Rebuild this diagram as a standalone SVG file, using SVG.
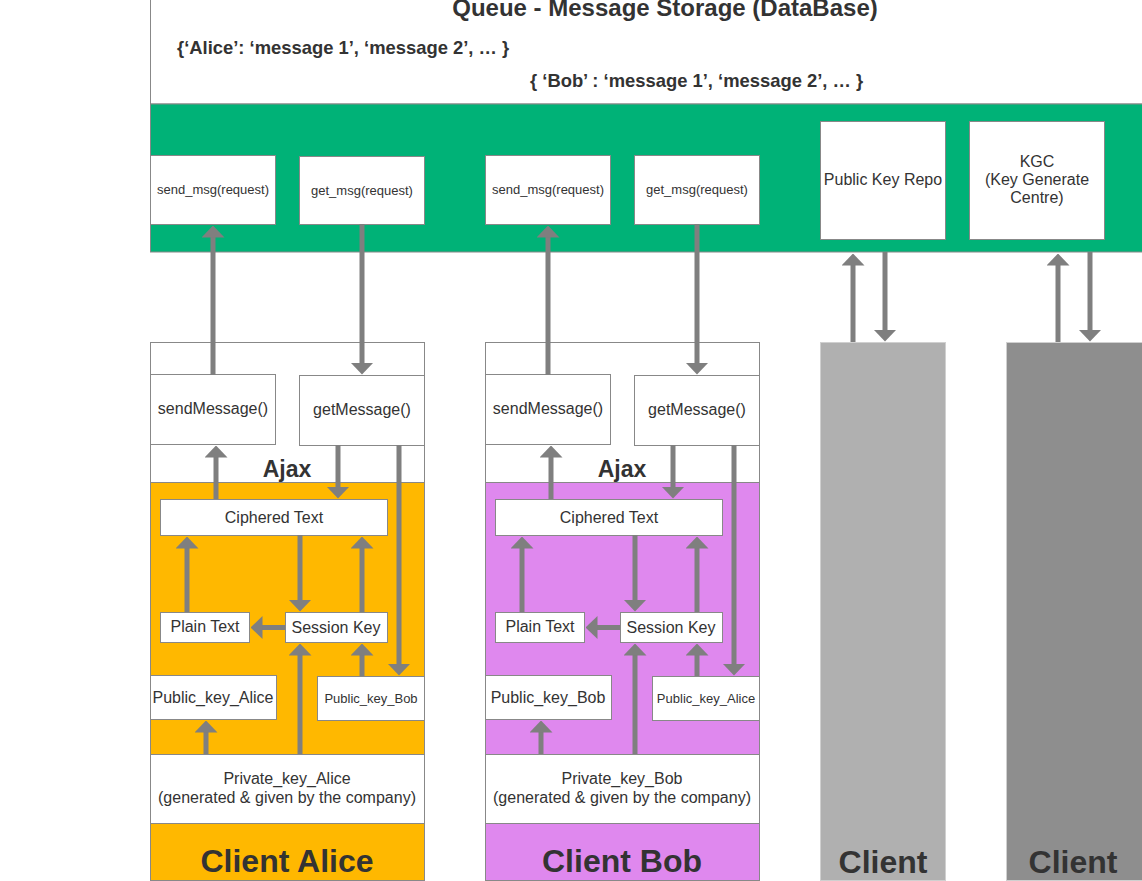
<svg xmlns="http://www.w3.org/2000/svg" width="1142" height="881" viewBox="0 0 1142 881">
<style>
  text { font-family: "Liberation Sans", Arial, sans-serif; fill: #333333; }
  .box { fill: #ffffff; stroke: #888888; stroke-width: 1; }
  .c { text-anchor: middle; }
  .t15 { font-size: 16px; }
  .t12 { font-size: 13px; }
  .big { font-size: 32px; font-weight: bold; }
  .ajax { font-size: 23px; font-weight: bold; }
  .arr { stroke: #7f7f7f; stroke-width: 5; fill: none; marker-end: url(#ah); }
</style>
<defs>
  <marker id="ah" markerUnits="userSpaceOnUse" markerWidth="12" markerHeight="23" viewBox="0 -11.5 12 23" refX="0.5" refY="0" orient="auto">
    <path d="M0,-11.5 L12,0 L0,11.5 Z" fill="#7f7f7f"/>
  </marker>
</defs>
<rect width="1142" height="881" fill="#ffffff"/>

<g id="db">
  <rect x="150.5" y="-1" width="992" height="105" class="box"/>
  <text x="665" y="16" class="c" style="font-size:24px;font-weight:bold">Queue - Message Storage (DataBase)</text>
  <text x="177" y="54" style="font-size:18.4px;font-weight:bold">{‘Alice’: ‘message 1’, ‘message 2’, … }</text>
  <text x="530" y="87" style="font-size:18.4px;font-weight:bold">{ ‘Bob’ : ‘message 1’, ‘message 2’, … }</text>
</g>

<g id="server">
  <rect x="150.5" y="104" width="992" height="148" fill="#00b277" stroke="#888888" stroke-width="1"/>
</g>
<g id="send_alice"><rect x="150.5" y="155.5" width="125" height="69" class="box"/><text x="213" y="194" class="c t12">send_msg(request)</text></g>
<g id="get_alice"><rect x="299.5" y="156.5" width="125" height="68" class="box"/><text x="362" y="195" class="c t12">get_msg(request)</text></g>
<g id="send_bob"><rect x="485.5" y="155.5" width="125" height="69" class="box"/><text x="548" y="194" class="c t12">send_msg(request)</text></g>
<g id="get_bob"><rect x="634.5" y="155.5" width="125" height="69" class="box"/><text x="697" y="194" class="c t12">get_msg(request)</text></g>
<g id="pkrepo"><rect x="820.5" y="121.5" width="125" height="118" class="box"/><text x="883" y="185" class="c t15">Public Key Repo</text></g>
<g id="kgc"><rect x="969.5" y="121.5" width="135" height="118" class="box"/>
  <text x="1037" y="167" class="c t15">KGC</text>
  <text x="1037" y="185" class="c t15">(Key Generate</text>
  <text x="1037" y="203" class="c t15">Centre)</text>
</g>

<!-- Client Alice -->
<g id="client_alice">
  <rect x="150.5" y="342.5" width="274" height="538" fill="#ffb800" stroke="#888888" stroke-width="1"/>
  <rect x="150.5" y="342.5" width="274" height="140" fill="#ffffff" stroke="#888888" stroke-width="1"/>
  <text x="287" y="477" class="c ajax">Ajax</text>
  <text x="287" y="872" class="c big">Client Alice</text>
</g>
<g id="sendMessage_alice"><rect x="150.5" y="374.5" width="125" height="70" class="box"/><text x="213" y="414" class="c t15">sendMessage()</text></g>
<g id="getMessage_alice"><rect x="299.5" y="375.5" width="125" height="70" class="box"/><text x="362" y="415" class="c t15">getMessage()</text></g>
<g id="cipher_alice"><rect x="160.5" y="499.5" width="227" height="36" class="box"/><text x="274" y="523" class="c t15">Ciphered Text</text></g>
<g id="plain_alice"><rect x="160.5" y="612.5" width="89" height="30" class="box"/><text x="205" y="632" class="c t15">Plain Text</text></g>
<g id="session_alice"><rect x="285.5" y="612.5" width="102" height="30" class="box"/><text x="336" y="633" class="c t15">Session Key</text></g>
<g id="pubA_alice"><rect x="150.5" y="675.5" width="126" height="44" class="box"/><text x="213" y="703" class="c t15">Public_key_Alice</text></g>
<g id="pubB_alice"><rect x="317.5" y="676.5" width="107" height="44" class="box"/><text x="371" y="703" class="c t12">Public_key_Bob</text></g>
<g id="priv_alice"><rect x="150.5" y="754.5" width="274" height="69" class="box"/>
  <text x="287" y="784" class="c t15">Private_key_Alice</text>
  <text x="287" y="803" class="c t15">(generated &amp; given by the company)</text>
</g>

<!-- Client Bob -->
<g id="client_bob">
  <rect x="485.5" y="342.5" width="274" height="538" fill="#df88ee" stroke="#888888" stroke-width="1"/>
  <rect x="485.5" y="342.5" width="274" height="140" fill="#ffffff" stroke="#888888" stroke-width="1"/>
  <text x="622" y="477" class="c ajax">Ajax</text>
  <text x="622" y="872" class="c big">Client Bob</text>
</g>
<g id="sendMessage_bob"><rect x="485.5" y="374.5" width="125" height="70" class="box"/><text x="548" y="414" class="c t15">sendMessage()</text></g>
<g id="getMessage_bob"><rect x="634.5" y="375.5" width="125" height="70" class="box"/><text x="697" y="415" class="c t15">getMessage()</text></g>
<g id="cipher_bob"><rect x="495.5" y="499.5" width="227" height="36" class="box"/><text x="609" y="523" class="c t15">Ciphered Text</text></g>
<g id="plain_bob"><rect x="495.5" y="612.5" width="89" height="30" class="box"/><text x="540" y="632" class="c t15">Plain Text</text></g>
<g id="session_bob"><rect x="620.5" y="612.5" width="102" height="30" class="box"/><text x="671" y="633" class="c t15">Session Key</text></g>
<g id="pubB_bob"><rect x="485.5" y="675.5" width="126" height="44" class="box"/><text x="548" y="703" class="c t15">Public_key_Bob</text></g>
<g id="pubA_bob"><rect x="652.5" y="676.5" width="107" height="44" class="box"/><text x="706" y="703" class="c t12">Public_key_Alice</text></g>
<g id="priv_bob"><rect x="485.5" y="754.5" width="274" height="69" class="box"/>
  <text x="622" y="784" class="c t15">Private_key_Bob</text>
  <text x="622" y="803" class="c t15">(generated &amp; given by the company)</text>
</g>

<!-- Other clients -->
<g id="client3">
  <rect x="820.5" y="342.5" width="125" height="538" fill="#b0b0b0" stroke="#d0d0d0" stroke-width="1"/>
  <text x="883" y="873" class="c big">Client</text>
</g>
<g id="client4">
  <rect x="1006.5" y="342.5" width="136" height="538" fill="#8e8e8e" stroke="#d0d0d0" stroke-width="1"/>
  <text x="1073" y="873" class="c big">Client</text>
</g>

<g id="connectors">
  <!-- Alice -->
  <line x1="213" y1="375" x2="213" y2="237" class="arr"/>
  <line x1="362" y1="224" x2="362" y2="363" class="arr"/>
  <line x1="216" y1="499" x2="216" y2="457" class="arr"/>
  <line x1="338" y1="445" x2="338" y2="487" class="arr"/>
  <line x1="399" y1="445" x2="399" y2="664" class="arr"/>
  <line x1="187" y1="612" x2="187" y2="548" class="arr"/>
  <line x1="300" y1="535" x2="300" y2="600" class="arr"/>
  <line x1="362" y1="612" x2="362" y2="548" class="arr"/>
  <line x1="285" y1="627.5" x2="262" y2="627.5" class="arr"/>
  <line x1="300" y1="754" x2="300" y2="655" class="arr"/>
  <line x1="362" y1="676" x2="362" y2="655" class="arr"/>
  <line x1="206" y1="754" x2="206" y2="732" class="arr"/>
  <!-- Bob -->
  <line x1="548" y1="375" x2="548" y2="237" class="arr"/>
  <line x1="697" y1="224" x2="697" y2="363" class="arr"/>
  <line x1="551" y1="499" x2="551" y2="457" class="arr"/>
  <line x1="673" y1="445" x2="673" y2="487" class="arr"/>
  <line x1="734" y1="445" x2="734" y2="664" class="arr"/>
  <line x1="522" y1="612" x2="522" y2="548" class="arr"/>
  <line x1="635" y1="535" x2="635" y2="600" class="arr"/>
  <line x1="697" y1="612" x2="697" y2="548" class="arr"/>
  <line x1="620" y1="627.5" x2="597" y2="627.5" class="arr"/>
  <line x1="635" y1="754" x2="635" y2="655" class="arr"/>
  <line x1="697" y1="676" x2="697" y2="655" class="arr"/>
  <line x1="541" y1="754" x2="541" y2="732" class="arr"/>
  <!-- Other clients -->
  <line x1="853" y1="342" x2="853" y2="265" class="arr"/>
  <line x1="885" y1="252" x2="885" y2="330" class="arr"/>
  <line x1="1058" y1="342" x2="1058" y2="265" class="arr"/>
  <line x1="1090" y1="252" x2="1090" y2="330" class="arr"/>
</g>
</svg>
